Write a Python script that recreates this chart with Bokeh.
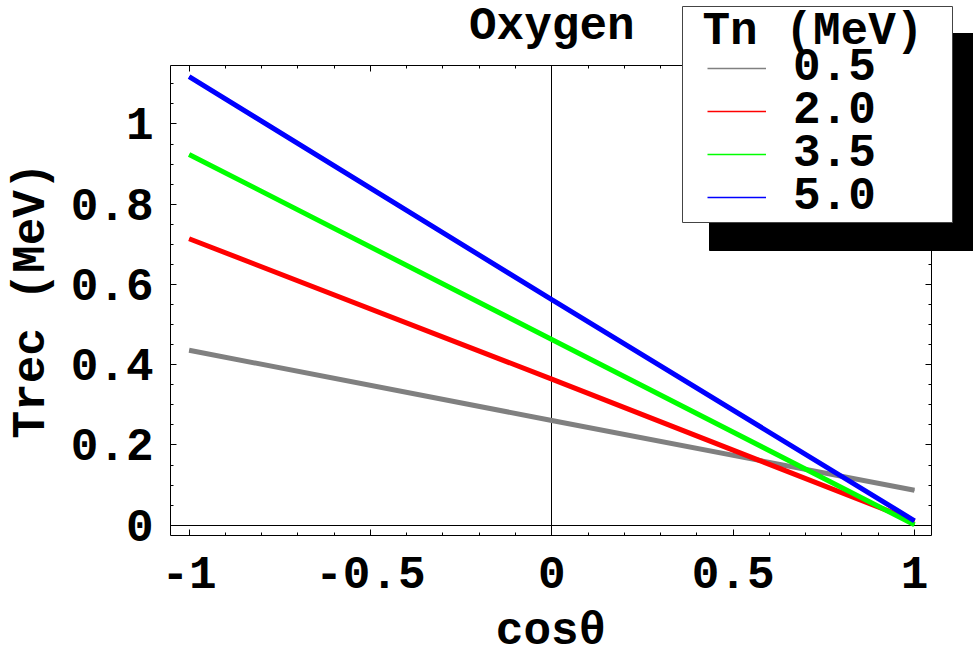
from bokeh.plotting import figure
from bokeh.models import (Range1d, FixedTicker, LinearAxis, BoxAnnotation,
                          Label, Legend, LegendItem, CustomJSTickFormatter)
from bokeh.embed import file_html
from bokeh.resources import INLINE

# ---------------- data ----------------
cos_theta = [-1.0, 0.0, 1.0]
trec_tn_05 = [0.436, 0.261, 0.087]
trec_tn_20 = [0.714, 0.364, 0.010]
trec_tn_35 = [0.924, 0.463, 0.001]
trec_tn_50 = [1.118, 0.562, 0.011]
tn_labels = ["0.5", "2.0", "3.5", "5.0"]
series_colors = ["#808080", "#ff0000", "#00ff00", "#0000ff"]

x_ticks = [-1.0, -0.5, 0.0, 0.5, 1.0]
x_tick_labels = ["-1", "-0.5", "0", "0.5", "1"]
y_ticks = [0.0, 0.2, 0.4, 0.6, 0.8, 1.0]
y_tick_labels = ["0", "0.2", "0.4", "0.6", "0.8", "1"]

title_text = "Oxygen"
legend_title = "Tn (MeV)"
x_label = "cos\u03b8"
y_label = "Trec (MeV)"

# ---------------- layout ----------------
FONT = "Liberation Mono"
FS = "46px"
W, H = 973, 659
# data limits of the boxed plotting area
X0, X1 = -1.0513, 1.0469
Y0, Y1 = -0.0257, 1.1457
# pixel edges of that box on the canvas
FL, FT, FR, FB = 170.0, 65.0, 931.0, 535.0
BASE_FIX = 11   # Bokeh draws 'alphabetic' labels this much lower than asked


def xd(px):
    return X0 + (px - FL) / (FR - FL) * (X1 - X0)


def yd(py):
    return Y0 + (FB - py) / (FB - FT) * (Y1 - Y0)


# the Bokeh frame covers the whole canvas; the boxed area is drawn by fixed axes
p = figure(width=W, height=H,
           x_range=Range1d(xd(0), xd(W)), y_range=Range1d(yd(H), yd(0)),
           x_axis_type=None, y_axis_type=None, output_backend="svg",
           toolbar_location=None, min_border=0,
           min_border_left=0, min_border_right=0, min_border_top=0, min_border_bottom=0)
p.outline_line_color = None
p.background_fill_color = "white"
p.border_fill_color = "white"

x_minor = [round(-1.0 + 0.1 * i, 2) for i in range(21)]
y_minor = [round(0.05 * i, 2) for i in range(23)]


def style_text(ax):
    ax.major_label_text_font = FONT
    ax.major_label_text_font_style = "bold"
    ax.major_label_text_font_size = FS
    ax.major_label_text_color = "black"
    ax.axis_label_text_font = FONT
    ax.axis_label_text_font_style = "bold"
    ax.axis_label_text_font_size = FS
    ax.axis_label_text_color = "black"


def frame_axis(ticks, minor, labels, loc, bounds, show):
    ax = LinearAxis(ticker=FixedTicker(ticks=ticks, minor_ticks=minor),
                    fixed_location=loc, bounds=bounds)
    ax.major_tick_in = 6
    ax.major_tick_out = 0
    ax.minor_tick_in = 3
    ax.minor_tick_out = 0
    ax.axis_line_color = "black"
    ax.axis_line_width = 1
    ax.major_tick_line_color = "black"
    ax.minor_tick_line_color = "black"
    if show:
        ax.major_label_overrides = dict(zip(ticks, labels))
        style_text(ax)
    else:
        ax.formatter = CustomJSTickFormatter(code="return ''")
        ax.major_label_text_font_size = "1px"
        ax.major_label_standoff = 0
    return ax


xb = frame_axis(x_ticks, x_minor, x_tick_labels, Y0, (X0, X1), True)
xb.axis_label = x_label
xb.major_label_standoff = 21
xb.axis_label_standoff = 15
yl = frame_axis(y_ticks, y_minor, y_tick_labels, X0, (Y0, Y1), True)
yl.axis_label = y_label
yl.major_label_standoff = 17
yl.axis_label_standoff = 10
p.add_layout(xb, "below")
p.add_layout(yl, "left")
p.add_layout(frame_axis(x_ticks, x_minor, x_tick_labels, Y1, (X0, X1), False), "above")
p.add_layout(frame_axis(y_ticks, y_minor, y_tick_labels, X1, (Y0, Y1), False), "right")

# zero axes (x = 0 and y = 0), beneath the curves
for dim_side, bnds in (("below", (X0, X1)), ("left", (Y0, Y1))):
    zax = LinearAxis(ticker=FixedTicker(ticks=[]), fixed_location=0, bounds=bnds,
                     level="underlay")
    zax.axis_line_color = "black"
    zax.axis_line_width = 1
    zax.major_tick_line_color = None
    zax.minor_tick_line_color = None
    zax.major_label_text_font_size = "1px"
    zax.major_label_standoff = 0
    p.add_layout(zax, dim_side)

series = [trec_tn_05, trec_tn_20, trec_tn_35, trec_tn_50]
thin = []
for ys, c in zip(series, series_colors):
    thin.append(p.line(cos_theta, ys, line_color=c, line_width=1.6))
for ys, c in zip(series, series_colors):
    p.line(cos_theta, ys, line_color=c, line_width=5)

# title
p.add_layout(Label(x=0, y=yd(37 - BASE_FIX), text=title_text, text_align="center",
                   text_baseline="alphabetic", text_font=FONT, text_font_style="bold",
                   text_font_size=FS, text_color="black"))

# legend: shadow + box + title + items
p.add_layout(BoxAnnotation(left=xd(709), right=xd(1000), top=yd(33), bottom=yd(250),
                           fill_color="black", fill_alpha=1, line_color="black", line_alpha=1,
                           level="annotation"))
p.add_layout(BoxAnnotation(left=xd(682), right=xd(952), top=yd(6), bottom=yd(222),
                           fill_color="white", fill_alpha=1, line_color="#444444",
                           line_alpha=1, line_width=1, level="annotation"))
p.add_layout(Label(x=xd(702), y=yd(42 - BASE_FIX), text=legend_title, text_align="left",
                   text_baseline="alphabetic", text_font=FONT, text_font_style="bold",
                   text_font_size=FS, text_color="black"))

ITEM_H = 52          # height Bokeh gives one legend row at this font size
for i, (lab, r) in enumerate(zip(tn_labels, thin)):
    centre = 68 + 43 * i
    lg = Legend(items=[LegendItem(label=lab, renderers=[r])],
                location=(707, H - (centre + ITEM_H / 2)),
                orientation="vertical", padding=0, margin=0, spacing=0,
                glyph_width=59, glyph_height=20, label_standoff=27,
                label_text_font=FONT, label_text_font_style="bold",
                label_text_font_size=FS, label_text_color="black",
                border_line_color=None, background_fill_alpha=0)
    p.add_layout(lg)

open("out.html", "w").write(file_html(p, INLINE))
